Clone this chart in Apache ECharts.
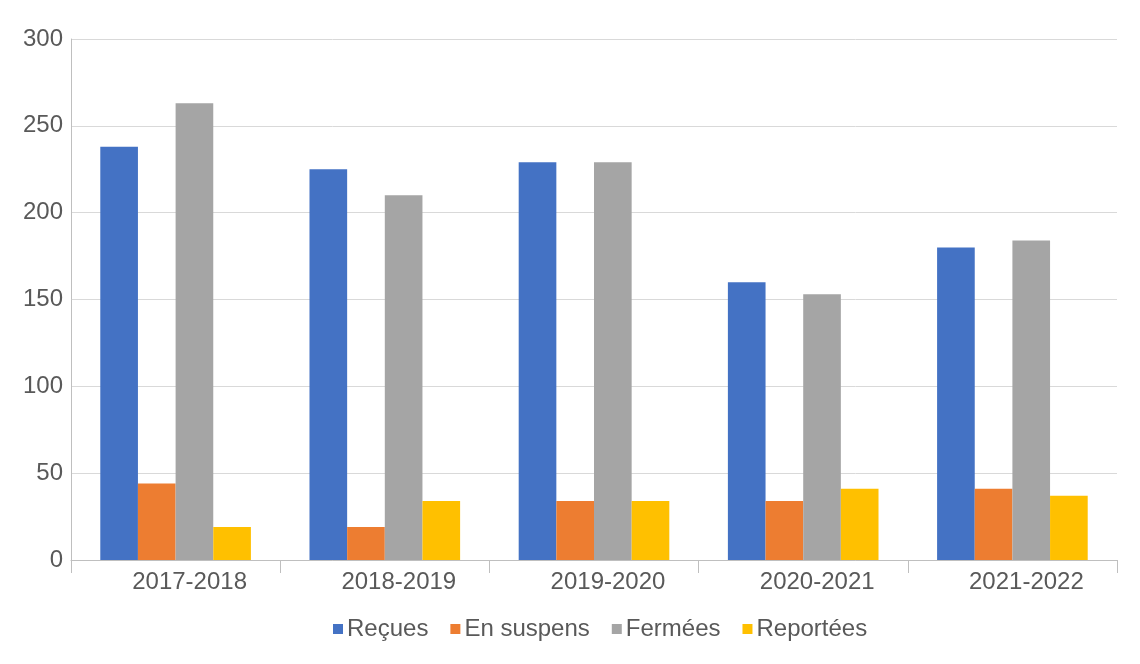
<!DOCTYPE html>
<html><head><meta charset="utf-8">
<script src="https://cdn.jsdelivr.net/npm/echarts@6/dist/echarts.min.js"></script>
<style>html,body{margin:0;padding:0;background:#fff}#c{width:1140px;height:664px}</style>
</head><body><div id="c"></div>
<script>
var categories = ['2017-2018','2018-2019','2019-2020','2020-2021','2021-2022'];
var recues = [238, 225, 229, 160, 180];
var enSuspens = [44, 19, 34, 34, 41];
var fermees = [263, 210, 229, 153, 184];
var reportees = [19, 34, 34, 41, 37];
var seriesNames = ['Reçues','En suspens','Fermées','Reportées'];
var colors = ['#4472C4','#ED7D31','#A5A5A5','#FFC000'];
var dataSets = [recues, enSuspens, fermees, reportees];

var chart = echarts.init(document.getElementById('c'));
var font = 'Liberation Sans, Arial, sans-serif';
chart.setOption({
  animation:false,
  color: colors,
  textStyle:{fontFamily:font},
  grid:{left:71,right:23,top:39,bottom:104,containLabel:false},
  legend:{
    bottom:18, left:328, itemWidth:10, itemHeight:10, itemGap:22,
    icon:'rect',
    textStyle:{fontSize:24,color:'#595959',fontFamily:font, padding:[0,0,0,-1]},
    data: seriesNames
  },
  xAxis:{
    type:'category', data:categories,
    axisLine:{lineStyle:{color:'#BFBFBF',width:1}},
    axisTick:{show:true,length:13,lineStyle:{color:'#BFBFBF'}},
    axisLabel:{fontSize:24,color:'#595959',margin:10,fontFamily:font,padding:[0,0,0,28]}
  },
  yAxis:{
    type:'value', min:0, max:300, interval:50,
    axisLine:{show:true,lineStyle:{color:'#BFBFBF'}},
    axisTick:{show:false},
    splitLine:{lineStyle:{color:'#D9D9D9'}},
    axisLabel:{fontSize:24,color:'#595959',margin:8,fontFamily:font}
  },
  series: dataSets.map(function(d,i){
    return {name:seriesNames[i], type:'bar', data:d, barGap:'0%', barCategoryGap:'28%'};
  })
});
</script></body></html>
